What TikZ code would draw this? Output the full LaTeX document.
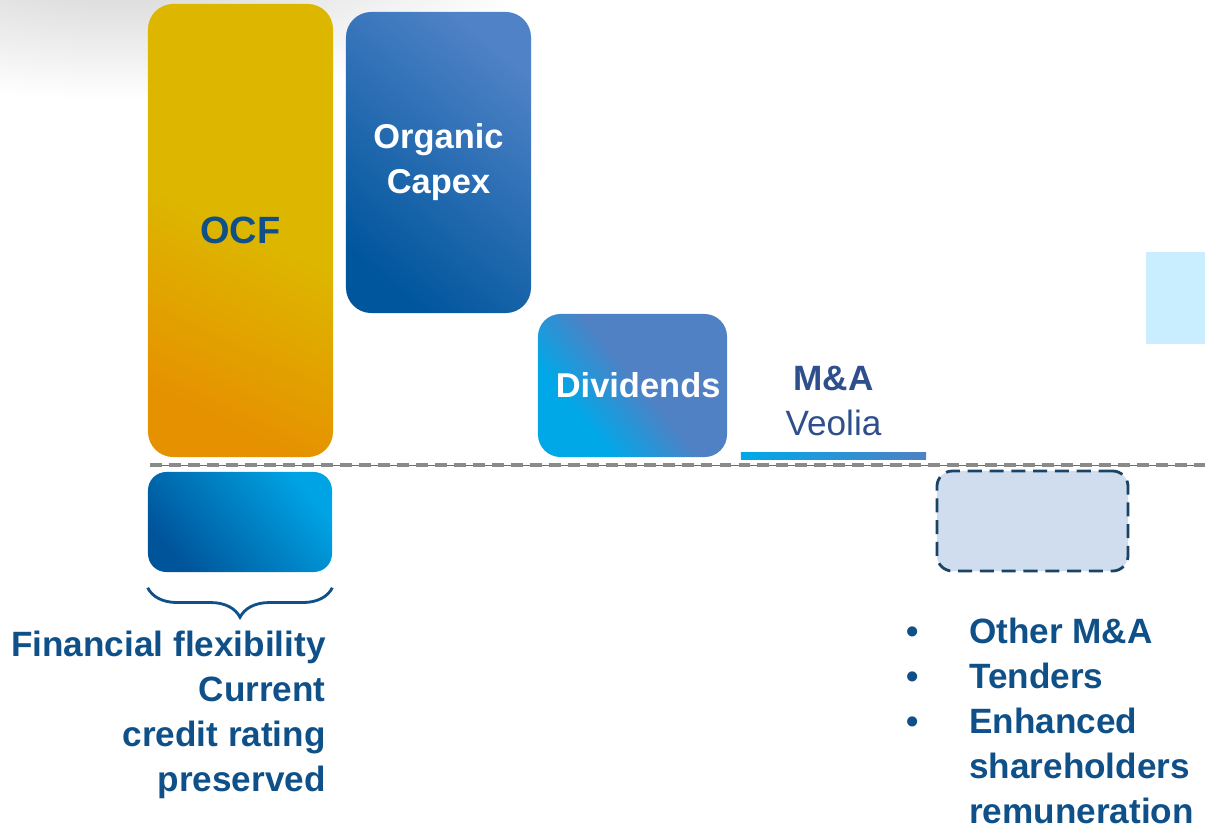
\documentclass[tikz,border=0pt]{standalone}
\usepackage{fontspec}
\setmainfont{Liberation Sans}
\usetikzlibrary{decorations.pathreplacing}
\definecolor{ocfyellow}{HTML}{DDB600}
\definecolor{ocforange}{HTML}{E69100}
\definecolor{capexlight}{HTML}{4F82C6}
\definecolor{capexdark}{HTML}{00569D}
\definecolor{divcyan}{HTML}{00A8E8}
\definecolor{divblue}{HTML}{4F81C4}
\definecolor{flexdark}{HTML}{00549A}
\definecolor{flexcyan}{HTML}{00A4E4}
\definecolor{textblue}{HTML}{0F5088}
\definecolor{mablue}{HTML}{2E4F8C}
\definecolor{otherfill}{HTML}{CFDDEE}
\definecolor{otherline}{HTML}{1A4466}
\definecolor{paleblue}{HTML}{C9EEFF}
\definecolor{axisgray}{HTML}{8A8A8A}
\definecolor{axisblue}{HTML}{4472C4}
\pgfdeclareverticalshading{divshade}{100bp}{color(0bp)=(divcyan); color(32bp)=(divcyan); color(52bp)=(divblue); color(100bp)=(divblue)}
\begin{document}
\begin{tikzpicture}[
  x=0.025cm, y=-0.025cm,
  bar/.style={inner sep=0pt, rounded corners=18pt, align=center, text=white,
    font=\fontsize{24.5}{32}\selectfont\bfseries},
  label/.style={inner sep=0pt, text=textblue, font=\fontsize{25}{32}\selectfont\bfseries}
]
\useasboundingbox (0,0) rectangle (1205,829);
% soft shadow top left
\shade[inner color=black!18, outer color=white] (120,-40) ellipse [x radius=420, y radius=140];
% pale block at the right edge
\fill[paleblue] (1146,252) rectangle (1215,344);
% bars above the line
\node[bar, minimum width=4.625cm, minimum height=11.325cm,
  top color=ocfyellow, bottom color=ocforange, middle color=ocfyellow, shading angle=-25,
  text=textblue, font=\fontsize{27}{32}\selectfont\bfseries] (ocf) at (240.5,230.5) {OCF};
\node[bar, minimum width=4.625cm, minimum height=7.525cm,
  top color=capexlight, bottom color=capexdark, shading angle=-40] (capex) at (438.5,162.5) {Organic\\Capex};
\node[bar, minimum width=4.725cm, minimum height=3.575cm, rounded corners=16pt,
  shading=divshade, shading angle=-50] (dividends) at (632.5,385.5) {\hspace*{8pt}Dividends};
\node[inner sep=0pt, minimum width=4.625cm, minimum height=0.175cm,
  left color=divcyan, right color=divblue] (mabar) at (833.5,455.5) {};
\node[align=center, text=mablue, font=\fontsize{25}{32}\selectfont, anchor=south]
  (ma) at (mabar.north) [yshift=8pt] {\textbf{M\&A}\\Veolia};
% zero line
\coordinate (lineL) at (150,465);
\coordinate (lineR) at (1205,465);
\draw[axisblue, line width=0.5pt] (lineL) -- (lineR);
\draw[axisgray, line width=2.6pt, dash pattern=on 8.5pt off 5pt] (lineL) -- (lineR);
% bars below the line
\node[bar, minimum width=4.6cm, minimum height=2.5cm, rounded corners=13pt,
  top color=flexcyan, bottom color=flexdark, shading angle=-50] (flex) at (240,522) {};
\node[inner sep=0pt, minimum width=4.775cm, minimum height=2.5cm, rounded corners=11pt,
  fill=otherfill, draw=otherline, line width=2pt, dash pattern=on 10pt off 5.5pt] (other) at (1032.5,521) {};
\draw[textblue, line width=2pt, decorate,
  decoration={brace, mirror, amplitude=21pt}] ([yshift=-11pt]flex.south west) -- ([yshift=-11pt]flex.south east) coordinate[midway] (bracetip);
% texts below
\node[label, align=right, anchor=north east] (flextext) at (326,631)
  {Financial flexibility\\Current\\credit rating\\preserved};
\node[label, anchor=north west] (othertext) at (906,612)
  {\begin{tabular}{@{}l@{\hspace{36pt}}l@{}}
   \textbullet & Other M\&A\\
   \textbullet & Tenders\\
   \textbullet & Enhanced\\
   & shareholders\\
   & remuneration
   \end{tabular}};
\end{tikzpicture}
\end{document}
